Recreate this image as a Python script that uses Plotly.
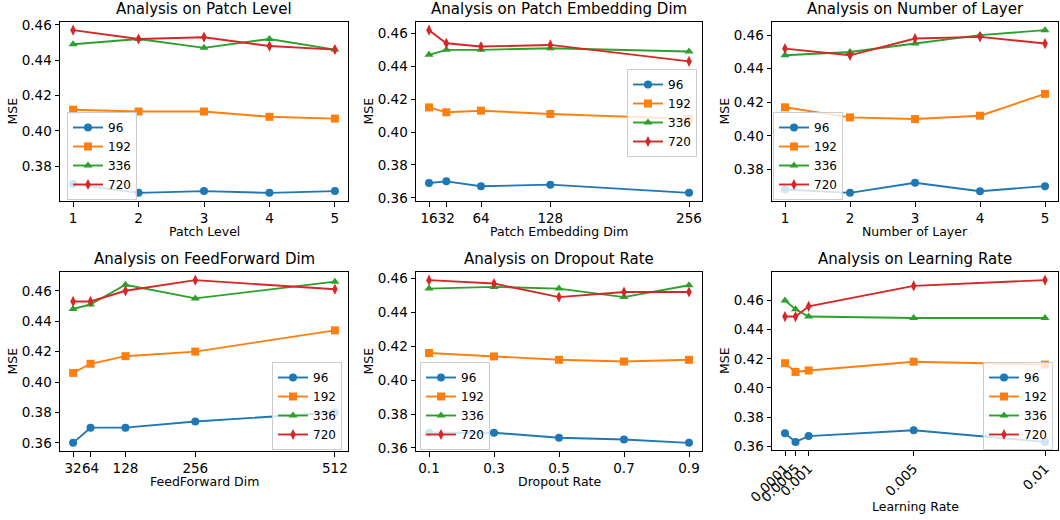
import plotly.graph_objects as go

W, H = 1060, 520

series_names = ["96", "192", "336", "720"]
colors = ["#1f77b4", "#ff7f0e", "#2ca02c", "#d62728"]
symbols = ["circle", "square", "triangle-up", "diamond-tall"]

# Panel 1: Patch Level
patch_level_x = [1, 2, 3, 4, 5]
patch_level_ticks = ["1", "2", "3", "4", "5"]
patch_level_96 = [0.370, 0.365, 0.366, 0.365, 0.366]
patch_level_192 = [0.412, 0.411, 0.411, 0.408, 0.407]
patch_level_336 = [0.449, 0.452, 0.447, 0.452, 0.446]
patch_level_720 = [0.457, 0.452, 0.453, 0.448, 0.446]

# Panel 2: Patch Embedding Dim
embed_x = [16, 32, 64, 128, 256]
embed_ticks = ["16", "32", "64", "128", "256"]
embed_96 = [0.369, 0.370, 0.367, 0.368, 0.363]
embed_192 = [0.415, 0.412, 0.413, 0.411, 0.408]
embed_336 = [0.447, 0.450, 0.450, 0.451, 0.449]
embed_720 = [0.462, 0.454, 0.452, 0.453, 0.443]

# Panel 3: Number of Layer
layer_x = [1, 2, 3, 4, 5]
layer_ticks = ["1", "2", "3", "4", "5"]
layer_96 = [0.368, 0.366, 0.372, 0.367, 0.370]
layer_192 = [0.417, 0.411, 0.410, 0.412, 0.425]
layer_336 = [0.448, 0.450, 0.455, 0.460, 0.463]
layer_720 = [0.452, 0.448, 0.458, 0.459, 0.455]

# Panel 4: FeedForward Dim
ff_x = [32, 64, 128, 256, 512]
ff_ticks = ["32", "64", "128", "256", "512"]
ff_96 = [0.360, 0.370, 0.370, 0.374, 0.380]
ff_192 = [0.406, 0.412, 0.417, 0.420, 0.434]
ff_336 = [0.448, 0.451, 0.464, 0.455, 0.466]
ff_720 = [0.453, 0.453, 0.460, 0.467, 0.461]

# Panel 5: Dropout Rate
drop_x = [0.1, 0.3, 0.5, 0.7, 0.9]
drop_ticks = ["0.1", "0.3", "0.5", "0.7", "0.9"]
drop_96 = [0.369, 0.369, 0.366, 0.365, 0.363]
drop_192 = [0.416, 0.414, 0.412, 0.411, 0.412]
drop_336 = [0.454, 0.455, 0.454, 0.449, 0.456]
drop_720 = [0.459, 0.457, 0.449, 0.452, 0.452]

# Panel 6: Learning Rate
lr_x = [0.0001, 0.0005, 0.001, 0.005, 0.01]
lr_ticks = ["0.0001", "0.0005", "0.001", "0.005", "0.01"]
lr_96 = [0.369, 0.363, 0.367, 0.371, 0.363]
lr_192 = [0.417, 0.411, 0.412, 0.418, 0.416]
lr_336 = [0.460, 0.454, 0.449, 0.448, 0.448]
lr_720 = [0.449, 0.449, 0.456, 0.470, 0.474]

y_tickvals = [0.36, 0.38, 0.40, 0.42, 0.44, 0.46]
y_label = "MSE"

panels = [
    dict(title="Analysis on Patch Level", xlabel="Patch Level", x=patch_level_x, ticks=patch_level_ticks,
         ys=[patch_level_96, patch_level_192, patch_level_336, patch_level_720],
         px=(60, 348), py=(22, 201), leg=(67, 112, "left"), angle=0, xl=232),
    dict(title="Analysis on Patch Embedding Dim", xlabel="Patch Embedding Dim", x=embed_x, ticks=embed_ticks,
         ys=[embed_96, embed_192, embed_336, embed_720],
         px=(416, 702), py=(22, 201), leg=(697, 69, "right"), angle=0, xl=232),
    dict(title="Analysis on Number of Layer", xlabel="Number of Layer", x=layer_x, ticks=layer_ticks,
         ys=[layer_96, layer_192, layer_336, layer_720],
         px=(772, 1058), py=(22, 201), leg=(773, 112, "left"), angle=0, xl=232),
    dict(title="Analysis on FeedForward Dim", xlabel="FeedForward Dim", x=ff_x, ticks=ff_ticks,
         ys=[ff_96, ff_192, ff_336, ff_720],
         px=(60, 348), py=(272, 451), leg=(342, 362, "right"), angle=0, xl=481),
    dict(title="Analysis on Dropout Rate", xlabel="Dropout Rate", x=drop_x, ticks=drop_ticks,
         ys=[drop_96, drop_192, drop_336, drop_720],
         px=(416, 702), py=(272, 451), leg=(420, 362, "left"), angle=0, xl=481),
    dict(title="Analysis on Learning Rate", xlabel="Learning Rate", x=lr_x, ticks=lr_ticks,
         ys=[lr_96, lr_192, lr_336, lr_720],
         px=(772, 1058), py=(272, 450), leg=(1053, 362, "right"), angle=-45, xl=506),
]

FONT = "DejaVu Sans"
fig = go.Figure()
layout = dict(
    template="none",
    width=W, height=H, margin=dict(l=0, r=0, t=0, b=0, pad=0, autoexpand=False),
    paper_bgcolor="white", plot_bgcolor="white",
    font=dict(family=FONT, size=12.5, color="black"),
    annotations=[],
)

for i, p in enumerate(panels):
    n = i + 1
    xa = "x" if n == 1 else f"x{n}"
    ya = "y" if n == 1 else f"y{n}"
    legname = "legend" if n == 1 else f"legend{n}"
    for k in range(4):
        fig.add_trace(go.Scatter(
            x=p["x"], y=p["ys"][k], name=series_names[k], mode="lines+markers",
            line=dict(color=colors[k], width=1.9),
            marker=dict(symbol=symbols[k], size=8, color=colors[k], line=dict(width=0)),
            xaxis=xa, yaxis=ya, legend=legname,
        ))
    xmin, xmax = min(p["x"]), max(p["x"])
    allys = [v for s in p["ys"] for v in s]
    ymin, ymax = min(allys), max(allys)
    xm = 0.05 * (xmax - xmin)
    ym = 0.05 * (ymax - ymin)
    axis_common = dict(showline=True, linecolor="black", linewidth=1, mirror=True,
                       ticks="outside", ticklen=4.5, tickwidth=1, tickcolor="black",
                       showgrid=False, zeroline=False, automargin=False,
                       tickfont=dict(family=FONT, size=13.5, color="black"))
    layout["xaxis" if n == 1 else f"xaxis{n}"] = dict(
        axis_common, domain=[p["px"][0] / W, p["px"][1] / W],
        anchor=ya, range=[xmin - xm, xmax + xm],
        tickmode="array", tickvals=p["x"], ticktext=p["ticks"], tickangle=p["angle"],
    )
    layout["yaxis" if n == 1 else f"yaxis{n}"] = dict(
        axis_common, domain=[1 - p["py"][1] / H, 1 - p["py"][0] / H],
        anchor=xa, range=[ymin - ym, ymax + ym],
        tickmode="array", tickvals=y_tickvals, ticktext=[f"{v:.2f}" for v in y_tickvals],
    )
    lx, ly, anchor = p["leg"]
    layout[legname] = dict(
        x=lx / W, y=1 - ly / H, xanchor=anchor, yanchor="top",
        xref="paper", yref="paper",
        bgcolor="rgba(255,255,255,0.8)", bordercolor="#cccccc", borderwidth=1,
        font=dict(family=FONT, size=12, color="black"),
        itemwidth=30, tracegroupgap=0,
    )
    layout["annotations"].append(dict(
        text=p["title"], x=(p["px"][0] + p["px"][1]) / 2 / W, y=1 - (p["py"][0] - 13) / H,
        xref="paper", yref="paper", xanchor="center", yanchor="middle",
        showarrow=False, font=dict(family=FONT, size=15, color="black"),
    ))
    layout["annotations"].append(dict(
        text=y_label, textangle=-90,
        x=(p["px"][0] - 48) / W, y=1 - (p["py"][0] + p["py"][1]) / 2 / H,
        xref="paper", yref="paper", xanchor="center", yanchor="middle",
        showarrow=False, font=dict(family=FONT, size=12.5, color="black"),
    ))
    layout["annotations"].append(dict(
        text=p["xlabel"],
        x=(p["px"][0] + p["px"][1]) / 2 / W, y=1 - p["xl"] / H,
        xref="paper", yref="paper", xanchor="center", yanchor="middle",
        showarrow=False, font=dict(family=FONT, size=12.5, color="black"),
    ))

fig.update_layout(**layout)
fig.write_html("out.html")
